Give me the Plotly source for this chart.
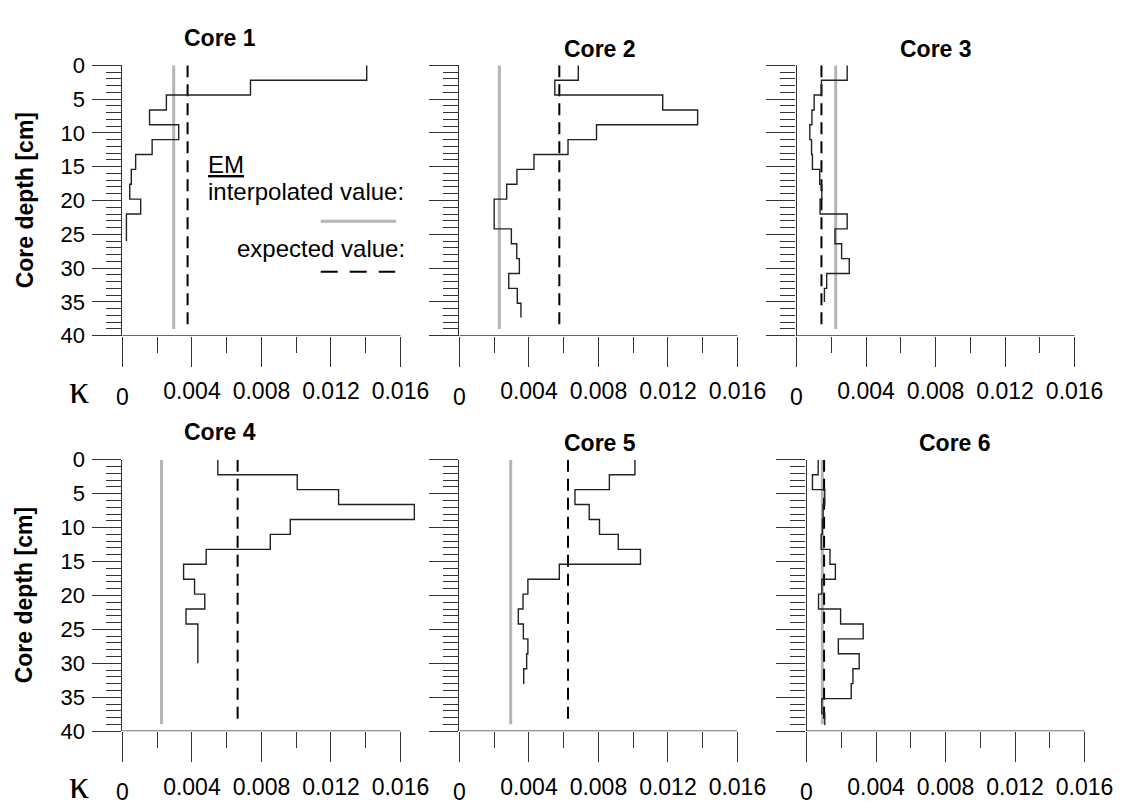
import plotly.graph_objects as go

# Layer tops of the sampled profiles [cm]
layer_tops = [0, 2.2, 4.4, 6.6, 8.8, 11.0, 13.2, 15.4, 17.6, 19.8,
              22.0, 24.2, 26.4, 28.6, 30.8, 33.0, 35.2, 37.4]

core_names = ["Core 1", "Core 2", "Core 3", "Core 4", "Core 5", "Core 6"]

# Measured magnetic susceptibility per layer
core1 = [0.01406, 0.00737, 0.00253, 0.00156, 0.00324, 0.00171, 0.00076,
         0.00051, 0.00042, 0.00105, 0.00023]
core2 = [0.00684, 0.00549, 0.01170, 0.01371, 0.00789, 0.00625, 0.00429,
         0.00331, 0.00272, 0.00200, 0.00200, 0.00299, 0.00330, 0.00345,
         0.00284, 0.00333, 0.00354]
core3 = [0.00291, 0.00143, 0.00101, 0.00088, 0.00076, 0.00086, 0.00091,
         0.00133, 0.00145, 0.00135, 0.00291, 0.00221, 0.00259, 0.00303,
         0.00173, 0.00160]
core4 = [0.00549, 0.01006, 0.01244, 0.01680, 0.00966, 0.00851, 0.00482,
         0.00352, 0.00415, 0.00474, 0.00366, 0.00434]
core5 = [0.01010, 0.00863, 0.00665, 0.00747, 0.00806, 0.00914, 0.01042,
         0.00575, 0.00394, 0.00366, 0.00339, 0.00368, 0.00394, 0.00387,
         0.00370]
core6 = [0.00067, 0.00034, 0.00105, 0.00095, 0.00091, 0.00084, 0.00135,
         0.00166, 0.00088, 0.00069, 0.00196, 0.00326, 0.00183, 0.00303,
         0.00267, 0.00257, 0.00088, 0.00105]
core_values = [core1, core2, core3, core4, core5, core6]

# Bottom depth of each measured profile [cm]
core_bottoms = [26.0, 37.3, 35.0, 30.0, 33.05, 39.1]

# EM reference values
em_interpolated = [0.00295, 0.00230, 0.00225, 0.00225, 0.00295, 0.00091]
em_expected = [0.00375, 0.00575, 0.00143, 0.00663, 0.00625, 0.00101]
em_depth_span = [0, 39]

# Axis ticks
x_tick_vals = [0, 0.004, 0.008, 0.012, 0.016]
x_tick_text = ["", "0.004", "0.008", "0.012", "0.016"]
x_minor_vals = [0.002, 0.006, 0.010, 0.014]
y_tick_vals = [0, 5, 10, 15, 20, 25, 30, 35, 40]
y_tick_text = ["0", "5", "10", "15", "20", "25", "30", "35", "40"]

X_MAX = 0.016
X_RANGE = [0, 0.0172]
DEPTH_MAX = 40

W, H = 1128, 812
FONT = "Liberation Sans, Arial, sans-serif"
AX = "#333333"

# Panel placement in pixels: left edge of axis, top/bottom of depth axis
panel_left = [123.3, 462.7, 802.3, 123.3, 462.7, 812.3]
panel_top = [55, 55, 55, 462, 462, 462]
panel_bottom = [334, 334, 334, 742, 742, 742]
px_per_unit = 280 / X_MAX
title_pos = [(222, 27), (604, 38), (943, 38), (222, 433), (604, 445), (962, 445)]

fig = go.Figure()
layout = dict(
    width=W, height=H, margin=dict(l=0, r=0, t=0, b=0),
    paper_bgcolor="white", plot_bgcolor="white", showlegend=False,
    font=dict(family=FONT, color="black"),
)
annotations = []
shapes = []

for i in range(6):
    n = i + 1
    xa = "x" if n == 1 else f"x{n}"
    ya = "y" if n == 1 else f"y{n}"
    xkey = "xaxis" if n == 1 else f"xaxis{n}"
    ykey = "yaxis" if n == 1 else f"yaxis{n}"

    left = panel_left[i]
    right = left + (X_RANGE[1] - X_RANGE[0]) * px_per_unit
    top, bottom = panel_top[i], panel_bottom[i]

    layout[xkey] = dict(
        domain=[left / W, right / W], range=X_RANGE, anchor=ya,
        showgrid=False, zeroline=False, showline=False,
        tickmode="array", tickvals=x_tick_vals, ticktext=x_tick_text,
        ticks="outside", ticklen=30, tickwidth=1.2, tickcolor=AX,
        tickfont=dict(size=23, family=FONT, color="black"),
        ticklabelstandoff=5,
        minor=dict(tickmode="array", tickvals=x_minor_vals, ticks="outside",
                   ticklen=16, tickwidth=1.2, tickcolor=AX),
    )
    layout[ykey] = dict(
        domain=[(H - bottom) / H, (H - top) / H], range=[DEPTH_MAX, 0],
        anchor=xa, showgrid=False, zeroline=False,
        showline=True, linecolor=AX, linewidth=1.3,
        tickmode="array", tickvals=y_tick_vals, ticktext=y_tick_text,
        ticks="outside", ticklen=29, tickwidth=1.2, tickcolor=AX,
        showticklabels=(i % 3 == 0),
        tickfont=dict(size=22, family=FONT, color="black"),
        ticklabelstandoff=3,
        minor=dict(dtick=1, tick0=0, ticks="outside", ticklen=15,
                   tickwidth=1.2, tickcolor=AX),
    )

    # depth axis baseline (x axis line) ending at the last major tick
    shapes.append(dict(type="line", xref=xa, yref=ya, x0=0, x1=X_MAX,
                       y0=DEPTH_MAX, y1=DEPTH_MAX,
                       line=dict(color=AX, width=1.3)))

    # EM interpolated value (grey) and expected value (dashed)
    fig.add_trace(go.Scatter(
        x=[em_interpolated[i]] * 2, y=em_depth_span, mode="lines",
        line=dict(color="#b5b5b5", width=3), xaxis=xa, yaxis=ya,
        hoverinfo="skip"))
    fig.add_trace(go.Scatter(
        x=[em_expected[i]] * 2, y=em_depth_span, mode="lines",
        line=dict(color="black", width=2, dash="12px,7px"), xaxis=xa,
        yaxis=ya, hoverinfo="skip"))

    # measured step profile
    vals = core_values[i]
    depths = layer_tops[:len(vals)] + [core_bottoms[i]]
    fig.add_trace(go.Scatter(
        x=vals + [vals[-1]], y=depths, mode="lines", line_shape="vh",
        line=dict(color="#222222", width=1.4), xaxis=xa, yaxis=ya,
        name=core_names[i]))

    # panel title
    tx, ty = title_pos[i]
    annotations.append(dict(
        text=f"<b>{core_names[i]}</b>", x=tx / W, y=(H - ty) / H,
        xref="paper", yref="paper", showarrow=False,
        xanchor="center", yanchor="middle",
        font=dict(size=23, family=FONT, color="black")))

    # zero label on x axis, set slightly lower than the others
    annotations.append(dict(
        text="0", x=0, xref=xa, y=(H - (bottom + 63)) / H, yref="paper",
        showarrow=False, xanchor="center", yanchor="middle",
        font=dict(size=23, family=FONT, color="black")))

# Row labels
for top, bottom in [(55, 334), (462, 742)]:
    annotations.append(dict(
        text="<b>Core depth [cm]</b>", x=25 / W, y=(H - (top + bottom) / 2) / H,
        xref="paper", yref="paper", showarrow=False, textangle=-90,
        xanchor="center", yanchor="middle",
        font=dict(size=23, family=FONT, color="black")))
    annotations.append(dict(
        text="κ", x=80 / W, y=(H - (bottom + 55)) / H,
        xref="paper", yref="paper", showarrow=False,
        xanchor="center", yanchor="middle",
        font=dict(size=40, family="Liberation Serif, Times New Roman, serif",
                  color="black")))

# Key for the EM reference lines
annotations += [
    dict(text="<u>EM</u>", x=207 / W, y=(H - 157) / H, xref="paper",
         yref="paper", showarrow=False, xanchor="left", yanchor="middle",
         font=dict(size=24, family=FONT, color="black")),
    dict(text="interpolated value:", x=207 / W, y=(H - 185) / H,
         xref="paper", yref="paper", showarrow=False, xanchor="left",
         yanchor="middle", font=dict(size=24, family=FONT, color="black")),
    dict(text="expected value:", x=410 / W, y=(H - 244) / H, xref="paper",
         yref="paper", showarrow=False, xanchor="right", yanchor="middle",
         font=dict(size=24, family=FONT, color="black")),
]
shapes += [
    dict(type="line", xref="paper", yref="paper", x0=323 / W, x1=399 / W,
         y0=(H - 216) / H, y1=(H - 216) / H,
         line=dict(color="#b5b5b5", width=3)),
    dict(type="line", xref="paper", yref="paper", x0=323 / W, x1=398 / W,
         y0=(H - 268) / H, y1=(H - 268) / H,
         line=dict(color="black", width=2.2, dash="17px,12px")),
]

layout["annotations"] = annotations
layout["shapes"] = shapes
fig.update_layout(**layout)

fig.write_html("out.html")
